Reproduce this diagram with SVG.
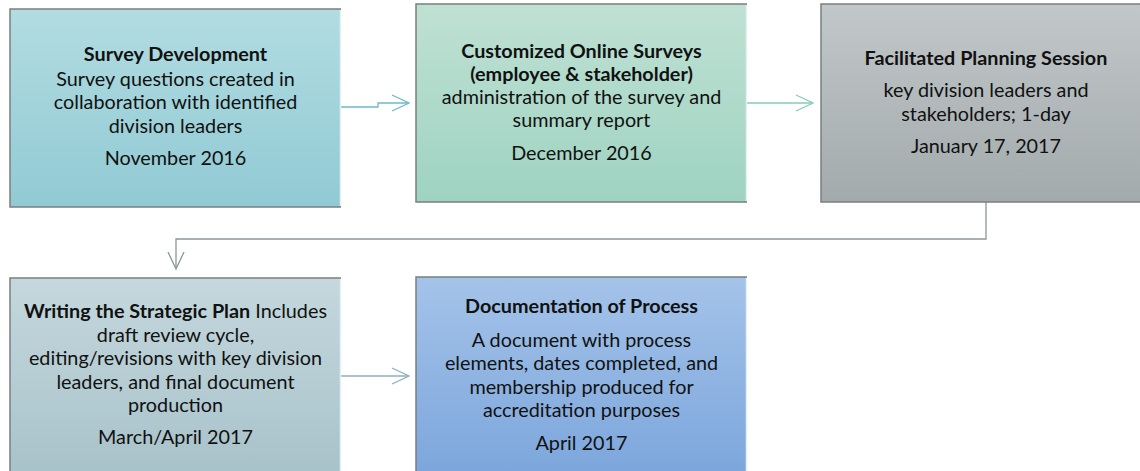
<svg xmlns="http://www.w3.org/2000/svg" width="1140" height="471" viewBox="0 0 1140 471">
  <style>
    .box { stroke: none; }
    .edge { fill: none; stroke: #7a7f80; stroke-width: 1.5; }
    .rim { fill: none; stroke: #e6f0f2; stroke-width: 1.5; }
    text { font-family: Lato, "Open Sans", "Liberation Sans", sans-serif; font-size: 19.8px; fill: #111; text-anchor: middle; }
    .b { font-weight: bold; }
    .conn { fill: none; stroke-width: 1.3; }
  </style>
  <defs>
    <linearGradient id="g1" x1="0" y1="0" x2="0" y2="1">
      <stop offset="0" stop-color="#b2dce1"/>
      <stop offset="1" stop-color="#91cad4"/>
    </linearGradient>
    <linearGradient id="g2" x1="0" y1="0" x2="0" y2="1">
      <stop offset="0" stop-color="#bfe1d4"/>
      <stop offset="1" stop-color="#9fd3c1"/>
    </linearGradient>
    <linearGradient id="g3" x1="0" y1="0" x2="0" y2="1">
      <stop offset="0" stop-color="#c2c8ca"/>
      <stop offset="1" stop-color="#a3aaac"/>
    </linearGradient>
    <linearGradient id="g4" x1="0" y1="0" x2="0" y2="1">
      <stop offset="0" stop-color="#c4d8dd"/>
      <stop offset="1" stop-color="#a8c2ca"/>
    </linearGradient>
    <linearGradient id="g5" x1="0" y1="0" x2="0" y2="1">
      <stop offset="0" stop-color="#a4c3e9"/>
      <stop offset="1" stop-color="#7ca6dc"/>
    </linearGradient>
  </defs>

  <!-- connectors -->
  <g id="connectors">
    <path class="conn" stroke="#6bb9c7" d="M341 107 H378 V103 H408"/>
    <path class="conn" stroke="#6bb9c7" d="M392 95 L409 103 L392 111"/>
    <path class="conn" stroke="#86ccb4" d="M747 103 H812"/>
    <path class="conn" stroke="#86ccb4" d="M796 95 L813 103 L796 111"/>
    <path class="conn" stroke="#8a9799" d="M986 202 V239 H176 V268"/>
    <path class="conn" stroke="#8a9799" d="M168 252 L176 269 L184 252"/>
    <path class="conn" stroke="#8db0bc" d="M341 376 H408"/>
    <path class="conn" stroke="#8db0bc" d="M392 368 L409 376 L392 384"/>
  </g>

  <!-- step 1 -->
  <g id="survey-development">
    <rect class="box" x="10" y="9" width="331" height="198" fill="url(#g1)"/>
    <path class="edge" d="M341 9 H10 V207 H341"/>
    <path class="rim" d="M340.5 10 V206"/>
    <text class="b" x="175.5" y="61">Survey Development</text>
    <text x="175.5" y="86">Survey questions created in</text>
    <text x="175.5" y="109">collaboration with identified</text>
    <text x="175.5" y="133">division leaders</text>
    <text x="175.5" y="165">November 2016</text>
  </g>

  <!-- step 2 -->
  <g id="online-surveys">
    <rect class="box" x="416" y="4" width="331" height="198" fill="url(#g2)"/>
    <path class="edge" d="M747 4 H416 V202 H747"/>
    <path class="rim" d="M746.5 5 V201"/>
    <text class="b" x="581.5" y="58">Customized Online Surveys</text>
    <text class="b" x="581.5" y="81">(employee &amp; stakeholder)</text>
    <text x="581.5" y="104">administration of the survey and</text>
    <text x="581.5" y="127">summary report</text>
    <text x="581.5" y="160">December 2016</text>
  </g>

  <!-- step 3 -->
  <g id="planning-session">
    <rect class="box" x="821" y="4" width="331" height="198" fill="url(#g3)"/>
    <path class="edge" d="M1152 4 H821 V202 H1152"/>
    <text class="b" x="986" y="65">Facilitated Planning Session</text>
    <text x="986" y="97">key division leaders and</text>
    <text x="986" y="121">stakeholders; 1-day</text>
    <text x="986" y="153">January 17, 2017</text>
  </g>

  <!-- step 4 -->
  <g id="strategic-plan">
    <rect class="box" x="10" y="278" width="331" height="198" fill="url(#g4)"/>
    <path class="edge" d="M341 278 H10 V476"/>
    <path class="rim" d="M340.5 279 V476"/>
    <text x="175.5" y="318"><tspan class="b">Writing the Strategic Plan</tspan> Includes</text>
    <text x="175.5" y="342">draft review cycle,</text>
    <text x="175.5" y="365">editing/revisions with key division</text>
    <text x="175.5" y="389">leaders, and final document</text>
    <text x="175.5" y="412">production</text>
    <text x="175.5" y="444">March/April 2017</text>
  </g>

  <!-- step 5 -->
  <g id="documentation">
    <rect class="box" x="416" y="277" width="331" height="198" fill="url(#g5)"/>
    <path class="edge" d="M747 277 H416 V475"/>
    <path class="rim" d="M746.5 278 V475"/>
    <text class="b" x="581.5" y="313">Documentation of Process</text>
    <text x="581.5" y="347">A document with process</text>
    <text x="581.5" y="370">elements, dates completed, and</text>
    <text x="581.5" y="394">membership produced for</text>
    <text x="581.5" y="417">accreditation purposes</text>
    <text x="581.5" y="450">April 2017</text>
  </g>
</svg>
